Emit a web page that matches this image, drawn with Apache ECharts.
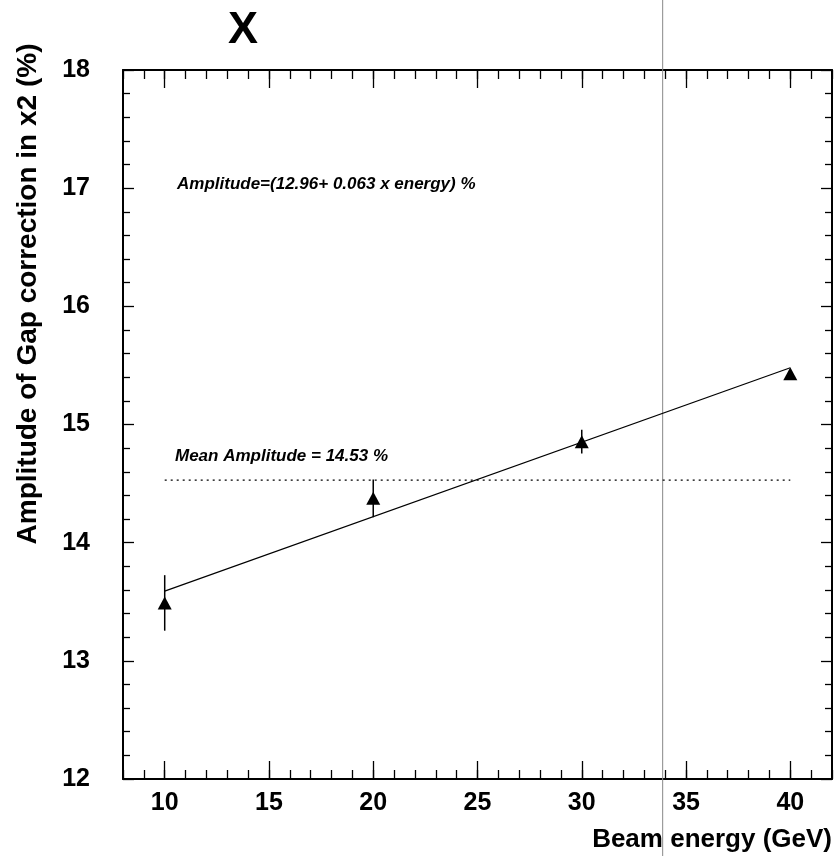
<!DOCTYPE html>
<html><head><meta charset="utf-8">
<script src="https://cdn.jsdelivr.net/npm/echarts@6/dist/echarts.min.js"></script>
<style>html,body{margin:0;padding:0;background:#fff}#c{width:836px;height:856px}</style>
</head><body><div id="c"></div>
<script>
// ---- data ----
const energies   = [10, 20, 30, 40];
const amplitudes = [13.49, 14.375, 14.855, 15.43];
const errors     = [0.235, 0.16, 0.10, 0.04];
const fitX = [10, 40];
const fitY = [13.59, 15.48];
const meanX = [10, 40];
const meanY = [14.53, 14.53];
const xMajorTicks = [10, 15, 20, 25, 30, 35, 40];
const markerLineX = 33.88;
const titleText = 'X';
const xTitle = 'Beam energy (GeV)';
const yTitle = 'Amplitude of Gap correction in x2 (%)';
const fitLabel = 'Amplitude=(12.96+ 0.063 x energy) %';
const meanLabel = 'Mean Amplitude = 14.53 %';

const FONT = "'Liberation Sans', Arial, Helvetica, sans-serif";
const chart = echarts.init(document.getElementById('c'), null, {renderer: 'canvas'});

const pts = energies.map((e, i) => [e, amplitudes[i], errors[i]]);
const fitData = fitX.map((x, i) => [x, fitY[i]]);
const meanData = meanX.map((x, i) => [x, meanY[i]]);

function xMinor(pos, show) {
  return {
    type: 'value', min: 8, max: 42, interval: 1, position: pos,
    axisLine: {show: show, onZero: false, lineStyle: {color: '#000', width: 2}},
    axisTick: {show: true, inside: true, length: 9, lineStyle: {color: '#000', width: 1.3}},
    axisLabel: {show: false}, splitLine: {show: false}
  };
}
function xMajor(pos, labels) {
  return {
    type: 'value', min: 8, max: 42, position: pos,
    axisLine: {show: false, onZero: false},
    axisTick: {show: true, inside: true, length: 18, customValues: xMajorTicks,
               lineStyle: {color: '#000', width: 1.3}},
    axisLabel: {show: labels, customValues: xMajorTicks, fontFamily: FONT, fontWeight: 'bold',
                fontSize: 25, color: '#000', margin: 12},
    splitLine: {show: false}
  };
}
function yAx(pos, labels) {
  return {
    type: 'value', min: 12, max: 18, interval: 1, position: pos,
    axisLine: {show: true, onZero: false, lineStyle: {color: '#000', width: 2}},
    axisTick: {show: true, inside: true, length: 11, lineStyle: {color: '#000', width: 1.3}},
    minorTick: {show: true, splitNumber: 5, length: 7, lineStyle: {color: '#000', width: 1.3}},
    axisLabel: {show: labels, fontFamily: FONT, fontWeight: 'bold', fontSize: 25, color: '#000', margin: 33},
    splitLine: {show: false}, minorSplitLine: {show: false}
  };
}

chart.setOption({
  animation: false,
  backgroundColor: '#fff',
  grid: {left: 123, right: 4, top: 70, bottom: 77, containLabel: false},
  xAxis: [xMinor('bottom', true), xMajor('bottom', true), xMinor('top', true), xMajor('top', false)],
  yAxis: [yAx('left', true), yAx('right', false)],
  series: [
    {
      type: 'line', data: meanData, xAxisIndex: 0, yAxisIndex: 0, symbol: 'none',
      lineStyle: {color: '#000', width: 1.3, type: [2, 4]}, z: 2
    },
    {
      type: 'line', data: fitData, xAxisIndex: 0, yAxisIndex: 0, symbol: 'none',
      lineStyle: {color: '#000', width: 1.2}, z: 3
    },
    {
      type: 'custom', data: pts, xAxisIndex: 0, yAxisIndex: 0, z: 4,
      renderItem: function (params, api) {
        const x = api.value(0), y = api.value(1), e = api.value(2);
        const p1 = api.coord([x, y - e]), p2 = api.coord([x, y + e]);
        return {type: 'line', shape: {x1: p1[0], y1: p1[1], x2: p2[0], y2: p2[1]},
                style: {stroke: '#000', lineWidth: 1.5}};
      }
    },
    {
      type: 'scatter', data: pts.map(p => [p[0], p[1]]), xAxisIndex: 0, yAxisIndex: 0,
      symbol: 'triangle', symbolSize: [14, 13], itemStyle: {color: '#000', opacity: 1}, z: 5
    }
  ]
});

const vx = chart.convertToPixel({xAxisIndex: 0}, markerLineX);
chart.setOption({
  graphic: [
    {type: 'line', shape: {x1: vx, y1: 0, x2: vx, y2: 856}, style: {stroke: '#888', lineWidth: 1}, z: 1},
    {type: 'text', x: 243, y: 31, style: {text: titleText, font: `bold 45px ${FONT}`, fill: '#000',
      textAlign: 'center', textVerticalAlign: 'middle'}},
    {type: 'text', x: 832, y: 840, style: {text: xTitle, font: `bold 26px ${FONT}`, fill: '#000',
      textAlign: 'right', textVerticalAlign: 'middle'}},
    {type: 'text', x: 28, y: 294, rotation: Math.PI / 2, style: {text: yTitle, font: `bold 28px ${FONT}`,
      fill: '#000', textAlign: 'center', textVerticalAlign: 'middle'}},
    {type: 'text', x: 177, y: 184, style: {text: fitLabel, font: `italic bold 17px ${FONT}`, fill: '#000',
      textAlign: 'left', textVerticalAlign: 'middle'}},
    {type: 'text', x: 175, y: 456, style: {text: meanLabel, font: `italic bold 17px ${FONT}`, fill: '#000',
      textAlign: 'left', textVerticalAlign: 'middle'}}
  ]
});
</script>
</body></html>
